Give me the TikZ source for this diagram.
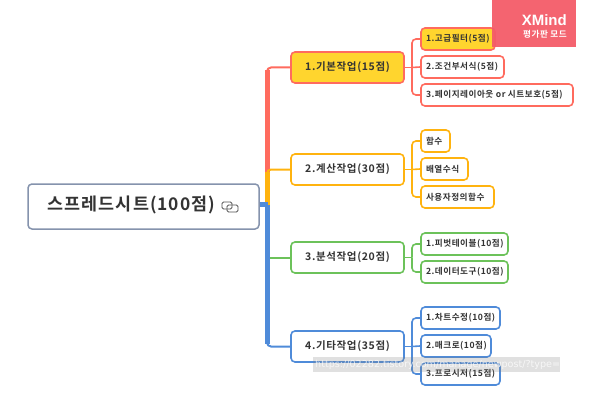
\documentclass[tikz,border=0pt]{standalone}
\usepackage{fontspec}
\newfontfamily\krfont[LetterSpace=6]{Noto Sans CJK KR Bold}
\newfontfamily\lsfont{Liberation Sans}
\newfontfamily\dvfont{DejaVu Sans}
\definecolor{cred}{HTML}{FF6B5E}
\definecolor{cora}{HTML}{FFB30F}
\definecolor{cgrn}{HTML}{6CC25A}
\definecolor{cblu}{HTML}{4F8BD9}
\definecolor{cyel}{HTML}{FFD52E}
\definecolor{croot}{HTML}{8593AD}
\definecolor{ctxt}{HTML}{333333}
\definecolor{cxm}{HTML}{F45C69}
\tikzset{x=1pt,y=-1pt,
 rootbox/.style={draw=croot,line width=1.5pt,rounded corners=4pt,fill=white,minimum width=231pt,minimum height=45pt,inner sep=0pt},
 mainbox/.style={line width=1.6pt,rounded corners=4pt,fill=white,minimum width=113pt,minimum height=31pt,inner sep=0pt,text=ctxt,font=\krfont\fontsize{10.5}{12}\selectfont},
 subbox/.style={line width=1.6pt,rounded corners=4pt,fill=white,minimum height=22pt,inner xsep=5pt,inner ysep=0pt,text=ctxt,align=flush left,text width=#1pt-10pt,minimum width=#1pt,font=\krfont\fontsize{8.6}{10}\selectfont},
 trunk/.style={line width=5pt},
 branch/.style={line width=2pt,rounded corners=4pt},
 twig/.style={line width=1.6pt,rounded corners=4pt}}
\begin{document}
\begin{tikzpicture}
\useasboundingbox (0,0) rectangle (600,412);
\fill[white] (0,0) rectangle (600,412);
% nodes
\node[rootbox] (root) at (143.5,206.5) {};
\node[text=ctxt,font=\krfont\fontsize{17.4}{20}\selectfont,inner sep=0pt] (roottxt) at (131.5,205) {스프레드시트(100점)};
\node[mainbox,draw=cred,fill=cyel] (m1) at (347.5,67.5) {1.기본작업(15점)};
\node[mainbox,draw=cora] (m2) at (347.5,169.5) {2.계산작업(30점)};
\node[mainbox,draw=cgrn] (m3) at (347.5,257.5) {3.분석작업(20점)};
\node[mainbox,draw=cblu] (m4) at (347.5,346.5) {4.기타작업(35점)};
\node[subbox=74,draw=cred,fill=cyel] (a1) at (458,39) {\mbox{1.고급필터(5점)}};
\node[subbox=83,draw=cred] (a2) at (462.5,67) {\mbox{2.조건부서식(5점)}};
\node[subbox=152,draw=cred] (a3) at (497,95) {\mbox{3.페이지레이아웃 or 시트보호(5점)}};
\node[subbox=29,draw=cora] (b1) at (435.5,141) {\mbox{함수}};
\node[subbox=47,draw=cora] (b2) at (444.5,169) {\mbox{배열수식}};
\node[subbox=73,draw=cora] (b3) at (457.5,197) {\mbox{사용자정의함수}};
\node[subbox=87,draw=cgrn] (c1) at (464.5,244) {\mbox{1.피벗테이블(10점)}};
\node[subbox=87,draw=cgrn] (c2) at (464.5,272) {\mbox{2.데이터도구(10점)}};
\node[subbox=79,draw=cblu] (d1) at (460.5,318) {\mbox{1.차트수정(10점)}};
\node[subbox=70,draw=cblu] (d2) at (456,346) {\mbox{2.매크로(10점)}};
\node[subbox=79,draw=cblu] (d3) at (460.5,374) {\mbox{3.프로시저(15점)}};
% junction coordinates
\coordinate (tt) at (267.5,204.5);
\coordinate (t1) at (267.5,70);
\coordinate (t2) at (267.5,172);
\coordinate (t4) at (267.5,344);
\coordinate (t3) at (267.5,257.5);
\coordinate (j1) at (412,67.5);
\coordinate (j2) at (412,169.5);
\coordinate (j3) at (412,257.5);
\coordinate (j4) at (412,346.5);
% trunk
\draw[branch,cred] (267,90) |- (m1.west);
\draw[trunk,cred] (t1) -- (t2);
\draw[branch,cora] (267,190) |- (m2.west);
\draw[trunk,cora] (t2) -- (tt);
\draw[branch,cgrn] (t3) -- (m3.west);
\draw[trunk,cblu] (tt) -- (t4);
\draw[line width=5pt,cblu] (root.east |- tt) -- (tt);
\draw[branch,cblu] (267,330) |- (m4.west);
% twigs
\draw[twig,cred] (m1.east) -- (j1);
\draw[twig,cred] (j1) |- (a1.west);
\draw[twig,cred] (j1) -- (a2.west);
\draw[twig,cred] (j1) |- (a3.west);
\draw[twig,cora] (m2.east) -- (j2);
\draw[twig,cora] (j2) |- (b1.west);
\draw[twig,cora] (j2) -- (b2.west);
\draw[twig,cora] (j2) |- (b3.west);
\draw[twig,cgrn] (m3.east) -- (j3);
\draw[twig,cgrn] (j3) |- (c1.west);
\draw[twig,cgrn] (j3) |- (c2.west);
\draw[twig,cblu] (m4.east) -- (j4);
\draw[twig,cblu] (j4) |- (d1.west);
\draw[twig,cblu] (j4) -- (d2.west);
\draw[twig,cblu] (j4) |- (d3.west);
% icon on the root
\draw[ctxt!85,line width=0.9pt,rounded corners=1.5pt] (222,202) rectangle (232,209);
\draw[ctxt!85,line width=0.9pt,rounded corners=1.5pt] (227,205) rectangle (238,212);
% XMind badge
\fill[cxm,fill opacity=0.95] (492,0) rectangle (576,47.5);
\node[text=white,font=\lsfont\bfseries\fontsize{15}{17}\selectfont,inner sep=0pt,anchor=east] (xm) at (567,20) {XMind};
\node[text=white,font=\krfont\fontsize{8.6}{10}\selectfont,inner sep=0pt,anchor=east] (xm2) at (567,34) {평가판 모드};
% watermark
\fill[gray,fill opacity=0.24] (313,357) rectangle (560,372);
\node[text=white,text opacity=0.75,font=\dvfont\fontsize{9.6}{11}\selectfont,inner sep=0pt,anchor=west] (wm) at (315,364.5) {https://02282.tistory.com/manage/newpost/?type=post};
\end{tikzpicture}
\end{document}
